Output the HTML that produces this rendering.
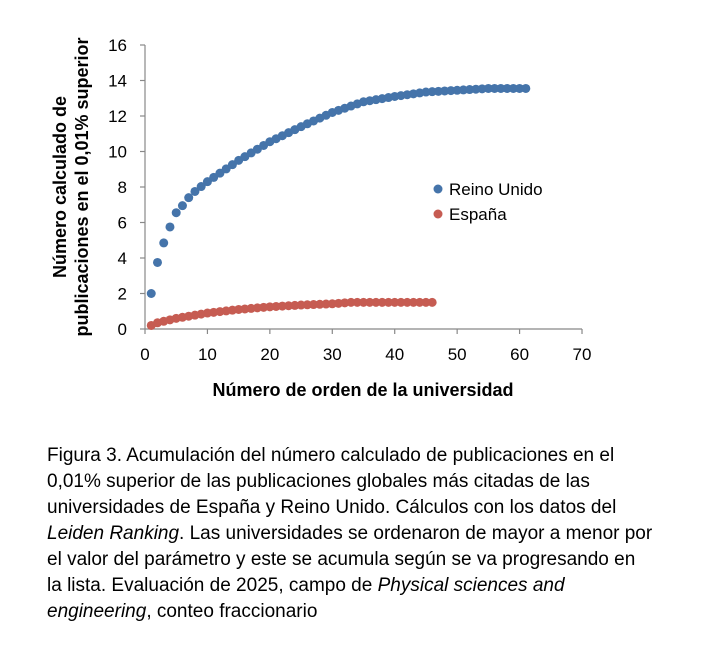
<!DOCTYPE html>
<html><head><meta charset="utf-8"><style>
body{margin:0;background:#fff;width:714px;height:648px;overflow:hidden;font-family:"Liberation Sans",sans-serif}
.cap{position:absolute;left:47px;top:443px;width:680px;font-size:19px;line-height:26px;color:#000;white-space:nowrap}
</style></head><body>
<svg id="s" width="714" height="430" style="position:absolute;left:0;top:0" font-family="Liberation Sans, sans-serif">
<g stroke="#888" stroke-width="1.2">
<line x1="145" y1="45" x2="145" y2="329"/>
<line x1="145" y1="329" x2="582" y2="329"/>
</g>
<g id="ticks" stroke="#888" stroke-width="1.2"></g>
<g id="lbl" font-size="17" fill="#000"></g>
<g id="pts"></g>
<circle cx="438" cy="189" r="4.5" fill="#4574aa"/>
<text x="449" y="195" font-size="17">Reino Unido</text>
<circle cx="438" cy="214" r="4.5" fill="#c65c52"/>
<text x="449" y="220" font-size="17">España</text>
<text transform="translate(66,187) rotate(-90)" text-anchor="middle" font-size="18" font-weight="bold">Número calculado de</text>
<text transform="translate(88,187) rotate(-90)" text-anchor="middle" font-size="18" font-weight="bold">publicaciones en el 0,01% superior</text>
<text x="363" y="396" text-anchor="middle" font-size="18" font-weight="bold">Número de orden de la universidad</text>
</svg>
<div class="cap">Figura 3. Acumulación del número calculado de publicaciones en el<br>0,01% superior de las publicaciones globales más citadas de las<br>universidades de España y Reino Unido. Cálculos con los datos del<br><i>Leiden Ranking</i>. Las universidades se ordenaron de mayor a menor por<br>el valor del parámetro y este se acumula según se va progresando en<br>la lista. Evaluación de 2025, campo de <i>Physical sciences and</i><br><i>engineering</i>, conteo fraccionario</div>
<script>
var ns="http://www.w3.org/2000/svg";
function el(t,a,p){var e=document.createElementNS(ns,t);for(var k in a)e.setAttribute(k,a[k]);document.getElementById(p).appendChild(e);return e;}
var X=function(v){return 145+v*6.243},Y=function(v){return 329-v*17.75};
for(var i=0;i<=8;i++){var v=i*2;el("line",{x1:140,x2:145,y1:Y(v),y2:Y(v)},"ticks");var t=el("text",{x:127,y:Y(v)+6,"text-anchor":"end"},"lbl");t.textContent=v;}
for(var i=0;i<=7;i++){var v=i*10;el("line",{x1:X(v),x2:X(v),y1:329,y2:334},"ticks");var t=el("text",{x:X(v),y:360,"text-anchor":"middle"},"lbl");t.textContent=v;}
function interp(a,n){for(var i=0;i<a.length-1;i++){if(n>=a[i][0]&&n<=a[i+1][0]){var f=(n-a[i][0])/(a[i+1][0]-a[i][0]);return a[i][1]+f*(a[i+1][1]-a[i][1]);}}return a[a.length-1][1];}
var uk=[[1,2],[2,3.75],[3,4.85],[4,5.75],[5,6.55],[6,6.95],[7,7.4],[8,7.75],[10,8.3],[15,9.5],[20,10.55],[25,11.4],[30,12.2],[35,12.8],[40,13.1],[45,13.35],[50,13.45],[55,13.55],[61,13.55]];
var es=[[1,0.2],[2,0.35],[5,0.6],[10,0.9],[15,1.1],[20,1.25],[25,1.35],[30,1.42],[33,1.5],[46,1.5]];
for(var n=1;n<=46;n++)el("circle",{cx:X(n),cy:Y(interp(es,n)),r:4.5,fill:"#c65c52"},"pts");
for(var n=1;n<=61;n++)el("circle",{cx:X(n),cy:Y(interp(uk,n)),r:4.5,fill:"#4574aa"},"pts");
</script>
</body></html>
